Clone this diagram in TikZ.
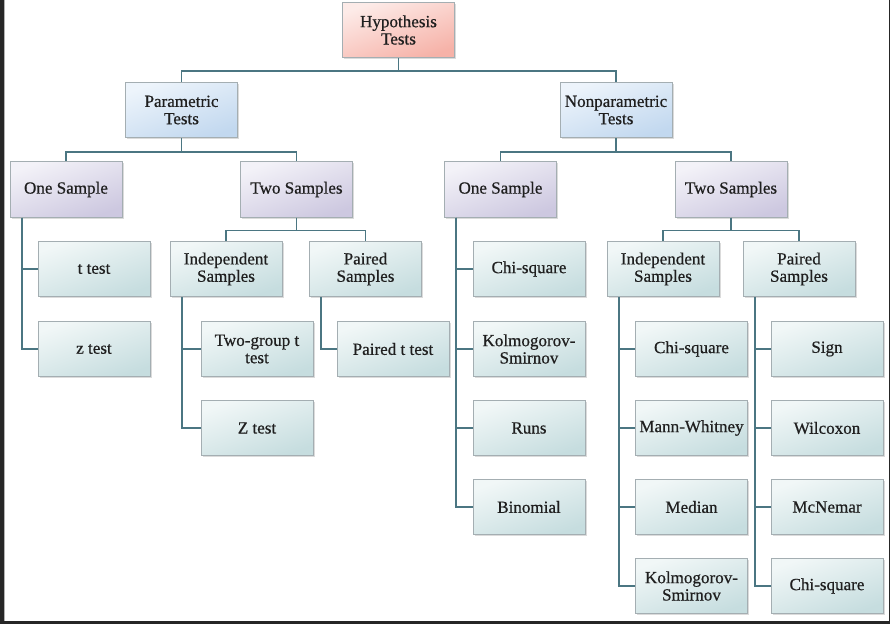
\documentclass[tikz,border=0pt]{standalone}
\usepackage{fontspec}
\setmainfont{Liberation Serif}
\newfontfamily\boxfont{Liberation Serif}[FakeBold=0.6]
\usetikzlibrary{shadows}
\definecolor{lnc}{HTML}{4B7682}
\definecolor{bdc}{HTML}{A4AEB2}
\definecolor{pinkA}{HTML}{FDEBE8}
\definecolor{pinkB}{HTML}{F6B2A8}
\definecolor{blueA}{HTML}{EDF4FB}
\definecolor{blueB}{HTML}{C2D8EF}
\definecolor{lavA}{HTML}{F3F2F8}
\definecolor{lavB}{HTML}{CDC8E0}
\definecolor{tealA}{HTML}{F1F7F7}
\definecolor{tealB}{HTML}{C6DDDF}
\tikzset{
  bx/.style={rectangle, draw=bdc, line width=0.6pt, minimum width=84pt, minimum height=41.5pt,
    inner sep=1pt, align=center, font=\boxfont\fontsize{12.8}{13}\selectfont, text=black!88,
    drop shadow={shadow xshift=1.2pt, shadow yshift=-1.2pt, fill=black!40, opacity=0.35}},
  pinkbox/.style={bx, top color=pinkA, bottom color=pinkB, shading angle=20},
  bluebox/.style={bx, top color=blueA, bottom color=blueB, shading angle=20},
  lavbox/.style={bx, top color=lavA, bottom color=lavB, shading angle=20},
  tealbox/.style={bx, top color=tealA, bottom color=tealB, shading angle=20},
  conn/.style={draw=lnc, line width=1.4pt},
}
\begin{document}
\begin{tikzpicture}[x=0.75pt,y=-0.75pt]
\useasboundingbox (0,0) rectangle (890,624);
\fill[black!85] (0,0) rectangle (890,624);
\fill[white] (4,0) rectangle (889,621);
\draw[black!30, line width=0.8pt] (4.5,0) -- (4.5,621);

% nodes
\node[pinkbox] (hyp) at (398.5,30) {Hypothesis\\Tests};
\node[bluebox] (par) at (181.5,110) {Parametric\\Tests};
\node[bluebox] (non) at (616,110) {Nonparametric\\Tests};
\node[lavbox] (os1) at (66,189.5) {One Sample};
\node[lavbox] (ts1) at (296.5,189.5) {Two Samples};
\node[lavbox] (os2) at (500.5,189.5) {One Sample};
\node[lavbox] (ts2) at (731,189.5) {Two Samples};
\node[tealbox] (tt) at (94,269) {t test};
\node[tealbox] (zt) at (94,349) {z test};
\node[tealbox] (is1) at (226,269) {Independent\\Samples};
\node[tealbox] (ps1) at (365.5,269) {Paired\\Samples};
\node[tealbox] (tg) at (257,349) {Two-group t\\test};
\node[tealbox] (Zt) at (257,428) {Z test};
\node[tealbox] (pt) at (393,349) {Paired t test};
\node[tealbox] (cs1) at (529,269) {Chi-square};
\node[tealbox] (ks1) at (529,349) {Kolmogorov-\\Smirnov};
\node[tealbox] (runs) at (529,428) {Runs};
\node[tealbox] (bin) at (529,507) {Binomial};
\node[tealbox] (is2) at (663,269) {Independent\\Samples};
\node[tealbox] (ps2) at (799,269) {Paired\\Samples};
\node[tealbox] (cs2) at (691.5,349) {Chi-square};
\node[tealbox] (mw) at (691.5,428) {Mann-Whitney};
\node[tealbox] (med) at (691.5,507) {Median};
\node[tealbox] (ks2) at (691.5,586) {Kolmogorov-\\Smirnov};
\node[tealbox] (sign) at (827,349) {Sign};
\node[tealbox] (wil) at (827,428) {Wilcoxon};
\node[tealbox] (mcn) at (827,507) {McNemar};
\node[tealbox] (cs3) at (827,586) {Chi-square};

% tree connectors
\draw[conn] (hyp.south) -- ++(0,13) -| (par.north);
\draw[conn] (hyp.south) -- ++(0,13) -| (non.north);
\draw[conn] (par.south) -- ++(0,14) -| (os1.north);
\draw[conn] (par.south) -- ++(0,14) -| (ts1.north);
\draw[conn] (non.south) -- ++(0,14) -| (os2.north);
\draw[conn] (non.south) -- ++(0,14) -| (ts2.north);
\draw[conn] (ts1.south) -- ++(0,13) -| (is1.north);
\draw[conn] (ts1.south) -- ++(0,13) -| (ps1.north);
\draw[conn] (ts2.south) -- ++(0,13) -| (is2.north);
\draw[conn] (ts2.south) -- ++(0,13) -| (ps2.north);

% side trunks
\foreach \p/\c in {os1/tt, os1/zt, is1/tg, is1/Zt, ps1/pt,
                   os2/cs1, os2/ks1, os2/runs, os2/bin,
                   is2/cs2, is2/mw, is2/med, is2/ks2,
                   ps2/sign, ps2/wil, ps2/mcn, ps2/cs3}
  \draw[conn] ([xshift=9pt]\p.south west) |- (\c.west);
\end{tikzpicture}
\end{document}
